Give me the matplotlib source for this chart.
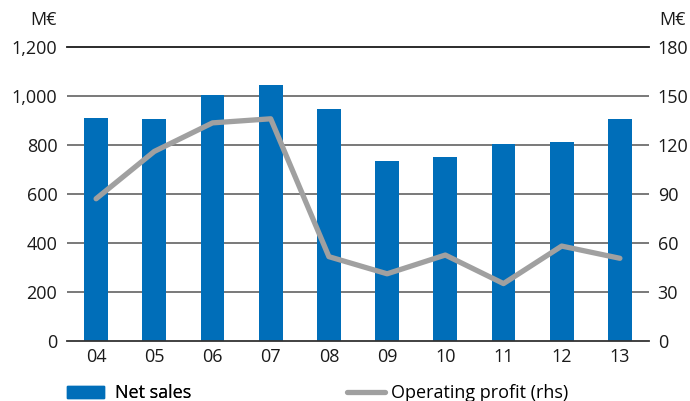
import matplotlib
matplotlib.use("Agg")
import matplotlib.pyplot as plt
from matplotlib.patches import Patch
from matplotlib.lines import Line2D

plt.rcParams['font.family'] = ['Open Sans', 'DejaVu Sans']

years = ["04", "05", "06", "07", "08", "09", "10", "11", "12", "13"]
net_sales = [910, 906, 1004, 1044, 946, 734, 750, 803, 812, 906]
operating_profit = [87, 116, 133.5, 136, 51.5, 41, 52.5, 35, 58, 50.5]
left_ticks = [0, 200, 400, 600, 800, 1000, 1200]
right_ticks = [0, 30, 60, 90, 120, 150, 180]

BLUE = "#006EB9"
GREY = "#A0A0A0"
FS = 13

fig = plt.figure(figsize=(6.9, 4.01), dpi=100)
ax = fig.add_axes([67 / 690, 1 - 340.7 / 401, (649 - 67) / 690, (340.7 - 47) / 401])
ax2 = ax.twinx()

x = list(range(len(years)))
ax.bar(x, net_sales, width=0.41, color=BLUE, zorder=2)
ax.set_xlim(-0.5, len(years) - 0.5)
ax.set_ylim(0, 1200)
ax.set_yticks(left_ticks)
ax.set_yticklabels([f"{v:,}" for v in left_ticks])
ax.set_xticks(x)
ax.set_xticklabels(years)

ax2.plot(x, operating_profit, color=GREY, lw=3.8, solid_capstyle="round",
         solid_joinstyle="round", zorder=3)
ax2.set_ylim(0, 180)
ax2.set_yticks(right_ticks)

# horizontal reference lines
for v in left_ticks[1:-1]:
    ax.axhline(v, color="#6E6E6E", lw=1.3, zorder=1)
ax.axhline(1200, color="#1A1A1A", lw=1.3, zorder=1, clip_on=False)
ax.axhline(0, color="#333333", lw=1.3, zorder=3, clip_on=False)

for a in (ax, ax2):
    for s in a.spines.values():
        s.set_visible(False)
    a.tick_params(length=0, labelsize=FS, colors="#1A1A1A")
ax.tick_params(axis="y", pad=7)
ax.tick_params(axis="x", pad=5.5)
ax2.tick_params(axis="y", pad=6.3)

fig.text(57 / 690, 1 - 20 / 401, "M€", ha="right", va="center", fontsize=FS, color="#1A1A1A")
fig.text(659 / 690, 1 - 20 / 401, "M€", ha="left", va="center", fontsize=FS, color="#1A1A1A")

leg1 = fig.legend(handles=[Patch(color=BLUE, label="Net sales")],
                  loc="center left", bbox_to_anchor=(67 / 690, 1 - 393 / 401),
                  frameon=False, fontsize=FS, handlelength=2.05, handleheight=0.67,
                  handletextpad=0.6, borderpad=0, borderaxespad=0)
fig.legend(handles=[Line2D([0], [0], color=GREY, lw=3.8, solid_capstyle="round",
                           label="Operating profit (rhs)")],
           loc="center left", bbox_to_anchor=(347 / 690, 1 - 393 / 401),
           frameon=False, fontsize=FS, handlelength=2.1,
           handletextpad=0.35, borderpad=0, borderaxespad=0)
fig.add_artist(leg1)

fig.savefig("out.png", dpi=100)
